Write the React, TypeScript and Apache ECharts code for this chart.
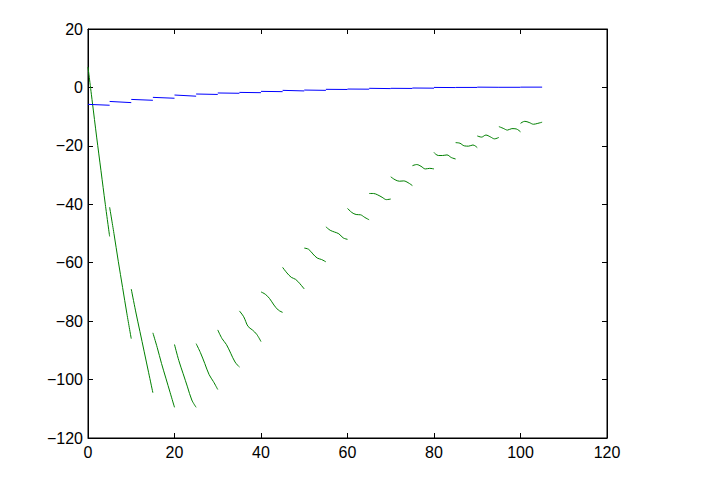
import React, { useEffect, useRef } from "react";
import * as echarts from "echarts";

const segmentStartX = [0, 5, 10, 15, 20, 25, 30, 35, 40, 45, 50, 55, 60, 65, 70, 75, 80, 85, 90, 95, 100];

// green values at x = start, start+1, ..., start+5 for each segment
const greenValues = [
  [7, -5, -17, -28.5, -40, -51],
  [-41, -50, -59.5, -68.5, -77.5, -86],
  [-69, -76.5, -83.5, -90.5, -97.5, -104.5],
  [-84, -89, -94.5, -99.5, -104.5, -109.5],
  [-88, -93.5, -98, -102.5, -107, -109.5],
  [-87.7, -90.8, -94.5, -98.3, -100.7, -103.4],
  [-83, -86, -88, -91, -94, -95.7],
  [-76.5, -78.5, -81.8, -83, -84.5, -87],
  [-70, -70.8, -72.3, -74.5, -76.2, -77],
  [-61.6, -63.5, -65, -65.7, -67.2, -69],
  [-55, -55.4, -57, -58.4, -58.9, -59.7],
  [-47.7, -48.9, -49.5, -50.1, -51.5, -52],
  [-41.4, -42.8, -43.5, -43.6, -44.5, -45.3],
  [-36.3, -36.3, -36.8, -37.6, -38.4, -38.2],
  [-30.6, -31.6, -32.1, -32, -32.6, -33.6],
  [-26.8, -26.4, -27, -27.9, -27.7, -27.9],
  [-22.3, -23.3, -23.3, -23.1, -24, -24.5],
  [-18.9, -19.1, -20, -20.1, -19.7, -20.6],
  [-16.6, -17, -16.3, -16.9, -17.6, -17.1],
  [-13.4, -14, -14.6, -14.1, -14.2, -15.2],
  [-12.3, -11.6, -12, -12.6, -12.3, -11.9],
];

// blue values at segment start and end
const blueStart = [-5.8, -4.8, -4.1, -3.4, -2.6, -2.25, -1.9, -1.7, -1.35, -1.0, -0.9, -0.65, -0.55, -0.3, -0.3, -0.2, 0.0, 0.0, 0.1, 0.05, 0.1];
const blueEnd = [-6.1, -5.2, -4.4, -3.7, -3.0, -2.4, -2.0, -1.8, -1.45, -1.2, -1.0, -0.7, -0.6, -0.4, -0.35, -0.25, -0.05, 0.0, 0.05, 0.05, 0.1];

const xTicks = [0, 20, 40, 60, 80, 100, 120];
const yTicks = [-120, -100, -80, -60, -40, -20, 0, 20];
const segLen = 5;

export default function App() {
  const ref = useRef<HTMLDivElement>(null);
  useEffect(() => {
    if (!ref.current) return;
    const chart = echarts.init(ref.current, undefined, { renderer: "svg" });
    const fmt = (v: number) => String(v).replace("-", "\u2212");
    const series: any[] = [];
    segmentStartX.forEach((x0, i) => {
      series.push({
        type: "line",
        data: [
          [x0, blueStart[i]],
          [x0 + segLen, blueEnd[i]],
        ],
        showSymbol: false,
        lineStyle: { color: "#0000ff", width: 1 },
        silent: true,
        z: 3,
      });
    });
    segmentStartX.forEach((x0, i) => {
      series.push({
        type: "line",
        data: greenValues[i].map((v, k) => [x0 + k, v]),
        showSymbol: false,
        smooth: 0.35,
        lineStyle: { color: "#008000", width: 1 },
        silent: true,
        z: 2,
      });
    });
    const labelStyle = {
      color: "#000",
      fontFamily: "Liberation Sans, Arial, sans-serif",
      fontSize: 16,
    };
    chart.setOption({
      animation: false,
      backgroundColor: "#fff",
      grid: {
        left: 88,
        right: 104,
        top: 29,
        bottom: 62,
        show: true,
        borderColor: "#000",
        borderWidth: 1,
        backgroundColor: "#fff",
      },
      xAxis: [
        {
          type: "value",
          min: xTicks[0],
          max: xTicks[xTicks.length - 1],
          interval: 20,
          axisLine: { show: true, onZero: false, lineStyle: { color: "#000" } },
          axisTick: { show: true, inside: true, length: 5, lineStyle: { color: "#000" } },
          axisLabel: { ...labelStyle, margin: 6, formatter: fmt },
          splitLine: { show: false },
        },
        {
          type: "value",
          position: "top",
          min: xTicks[0],
          max: xTicks[xTicks.length - 1],
          interval: 20,
          axisLine: { show: true, onZero: false, lineStyle: { color: "#000" } },
          axisTick: { show: true, inside: true, length: 5, lineStyle: { color: "#000" } },
          axisLabel: { show: false },
          splitLine: { show: false },
        },
      ],
      yAxis: [
        {
          type: "value",
          min: yTicks[0],
          max: yTicks[yTicks.length - 1],
          interval: 20,
          axisLine: { show: true, onZero: false, lineStyle: { color: "#000" } },
          axisTick: { show: true, inside: true, length: 5, lineStyle: { color: "#000" } },
          axisLabel: { ...labelStyle, margin: 5, formatter: fmt },
          splitLine: { show: false },
        },
        {
          type: "value",
          position: "right",
          min: yTicks[0],
          max: yTicks[yTicks.length - 1],
          interval: 20,
          axisLine: { show: true, onZero: false, lineStyle: { color: "#000" } },
          axisTick: { show: true, inside: true, length: 5, lineStyle: { color: "#000" } },
          axisLabel: { show: false },
          splitLine: { show: false },
        },
      ],
      series,
    });
    return () => chart.dispose();
  }, []);
  return (
    <div
      ref={ref}
      style={{ position: "fixed", left: 0, top: 0, width: 711, height: 500, background: "#fff" }}
    />
  );
}
